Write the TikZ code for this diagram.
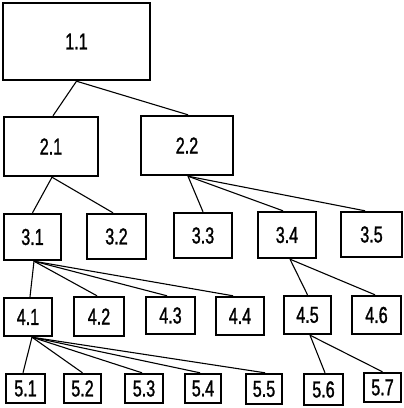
\documentclass[tikz,border=0pt]{standalone}
\usepackage{fontspec}
\setmainfont[FakeStretch=0.7,FakeBold=1.2]{Liberation Sans}
\begin{document}
\begin{tikzpicture}[x=1pt,y=-1pt,
  box/.style={draw, line width=2.4pt, inner sep=0pt, font=\fontsize{23}{23}\selectfont},
  link/.style={line width=1.1pt}]
\useasboundingbox (0,0) rectangle (404,408);
% level 1
\node[box, minimum width=147, minimum height=77] (n11) at (76.5,41.5) {1.1};
% level 2
\node[box, minimum width=94, minimum height=59] (n21) at (51,146.5) {2.1};
\node[box, minimum width=92, minimum height=59] (n22) at (187,145.5) {2.2};
% level 3
\node[box, minimum width=57, minimum height=46] (n31) at (32.5,237) {3.1};
\node[box, minimum width=59, minimum height=45] (n32) at (116.5,236.5) {3.2};
\node[box, minimum width=58, minimum height=45] (n33) at (203,235.5) {3.3};
\node[box, minimum width=58, minimum height=46] (n34) at (287,235) {3.4};
\node[box, minimum width=61, minimum height=45] (n35) at (371.5,234.5) {3.5};
% level 4
\node[box, minimum width=48, minimum height=38] (n41) at (28,317) {4.1};
\node[box, minimum width=50, minimum height=39] (n42) at (99,316.5) {4.2};
\node[box, minimum width=49, minimum height=37] (n43) at (170.5,315.5) {4.3};
\node[box, minimum width=48, minimum height=38] (n44) at (240,316) {4.4};
\node[box, minimum width=47, minimum height=38] (n45) at (307.5,315) {4.5};
\node[box, minimum width=49, minimum height=38] (n46) at (376.5,315) {4.6};
% level 5
\node[box, minimum width=39, minimum height=29] (n51) at (25.5,388.5) {5.1};
\node[box, minimum width=37, minimum height=29] (n52) at (82.5,388.5) {5.2};
\node[box, minimum width=38, minimum height=29] (n53) at (144,388.5) {5.3};
\node[box, minimum width=36, minimum height=29] (n54) at (203,388.5) {5.4};
\node[box, minimum width=36, minimum height=30] (n55) at (264,389) {5.5};
\node[box, minimum width=39, minimum height=31] (n56) at (323.5,389.5) {5.6};
\node[box, minimum width=37, minimum height=29] (n57) at (382.5,387.5) {5.7};
% connectors
\draw[link] (n11.south) -- ([xshift=2pt]n21.north);
\draw[link] (n11.south) -- ([xshift=1pt]n22.north);
\draw[link] ([xshift=1pt]n21.south) -- (n31.north);
\draw[link] ([xshift=1pt]n21.south) -- ([xshift=-3.5pt]n32.north);
\draw[link] ([xshift=1pt]n22.south) -- (n33.north);
\draw[link] ([xshift=1pt]n22.south) -- ([xshift=-4pt]n34.north);
\draw[link] ([xshift=1pt]n22.south) -- ([xshift=-6.5pt]n35.north);
\draw[link] ([xshift=1.5pt]n31.south) -- ([xshift=2pt]n41.north);
\draw[link] ([xshift=1.5pt]n31.south) -- ([xshift=-2pt]n42.north);
\draw[link] ([xshift=1.5pt]n31.south) -- ([xshift=-3.5pt]n43.north);
\draw[link] ([xshift=1.5pt]n31.south) -- ([xshift=-7pt]n44.north);
\draw[link] ([xshift=3pt]n34.south) -- (n45.north);
\draw[link] ([xshift=3pt]n34.south) -- ([xshift=-1.5pt]n46.north);
\draw[link] ([xshift=4pt]n41.south) -- ([xshift=-2.5pt]n51.north);
\draw[link] ([xshift=4pt]n41.south) -- (n52.north);
\draw[link] ([xshift=4pt]n41.south) -- ([xshift=-2pt]n53.north);
\draw[link] ([xshift=4pt]n41.south) -- ([xshift=-3pt]n54.north);
\draw[link] ([xshift=4pt]n41.south) -- ([xshift=1pt]n55.north);
\draw[link] ([xshift=2.5pt]n45.south) -- ([xshift=1.5pt]n56.north);
\draw[link] ([xshift=2.5pt]n45.south) -- (n57.north);
\end{tikzpicture}
\end{document}
